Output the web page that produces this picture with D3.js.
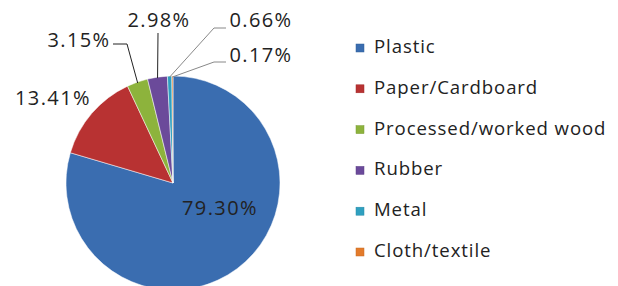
<!DOCTYPE html>
<html>
<head>
<meta charset="utf-8">
<script src="https://cdn.jsdelivr.net/npm/d3@7"></script>
<style>
  html, body { margin: 0; padding: 0; background: #fff; }
  svg { display: block; font-family: "Open Sans", "Liberation Sans", sans-serif; }
</style>
</head>
<body>
<svg id="chart" width="618" height="286"></svg>
<script>
// Données
const categories = ['Plastic', 'Paper/Cardboard', 'Processed/worked wood', 'Rubber', 'Metal', 'Cloth/textile'];
const shares = [79.30, 13.41, 3.15, 2.98, 0.66, 0.17];
const shareLabels = ['79.30%', '13.41%', '3.15%', '2.98%', '0.66%', '0.17%'];
const colors = ['#3a6db0', '#b83232', '#8db33c', '#6b4a9a', '#2fa0c0', '#e37b2b'];

// Placement des étiquettes (mise en page, pas des données)
const labelLayout = [
  { x: 220, y: 210 },
  { x: 53, y: 100 },
  { x: 79, y: 42, elbow: [113, 44], bend: [127, 44] },
  { x: 159, y: 22, elbow: [158, 33], bend: [158, 33] },
  { x: 261, y: 22, elbow: [226, 28], bend: [214, 28] },
  { x: 261, y: 57, elbow: [226, 62], bend: [214, 62] }
];

const svg = d3.select('#chart');
const cx = 173, cy = 183, R = 107;

const pie = d3.pie().sort(null).value(d => d)(shares);
const arc = d3.arc().innerRadius(0).outerRadius(R);

const g = svg.append('g').attr('transform', `translate(${cx},${cy})`);

g.selectAll('path.slice')
  .data(pie)
  .enter().append('path')
  .attr('class', 'slice')
  .attr('d', arc)
  .attr('fill', (d, i) => colors[i])
  .attr('stroke', '#fff')
  .attr('stroke-width', 0.5);

// Lignes de rappel
pie.forEach((d, i) => {
  const L = labelLayout[i];
  if (!L.elbow) return;
  const a = (d.startAngle + d.endAngle) / 2;
  const px = cx + Math.sin(a) * (R - 1);
  const py = cy - Math.cos(a) * (R - 1);
  svg.append('path')
    .attr('d', d3.line()([[px, py], L.bend, L.elbow]))
    .attr('fill', 'none')
    .attr('stroke', i >= 4 ? '#888' : '#222')
    .attr('stroke-width', 1);
});

// Étiquettes
pie.forEach((d, i) => {
  const L = labelLayout[i];
  svg.append('text')
    .attr('x', L.x)
    .attr('y', L.y)
    .attr('text-anchor', 'middle')
    .attr('dominant-baseline', 'middle')
    .attr('font-size', 20)
    .attr('letter-spacing', 1.4)
    .attr('fill', '#222')
    .text(shareLabels[i]);
});

// Légende
const legend = svg.append('g').attr('transform', 'translate(356,44)');
const rowH = 40.8;
categories.forEach((c, i) => {
  const row = legend.append('g').attr('transform', `translate(0,${i * rowH})`);
  row.append('rect')
    .attr('width', 8).attr('height', 8)
    .attr('fill', colors[i])
    .attr('stroke', d3.color(colors[i]).darker(0.4))
    .attr('stroke-width', 0.5);
  row.append('text')
    .attr('x', 18)
    .attr('y', 4)
    .attr('dominant-baseline', 'middle')
    .attr('font-size', 18.6)
    .attr('letter-spacing', 0.9)
    .attr('fill', '#222')
    .text(c);
});
</script>
</body>
</html>
